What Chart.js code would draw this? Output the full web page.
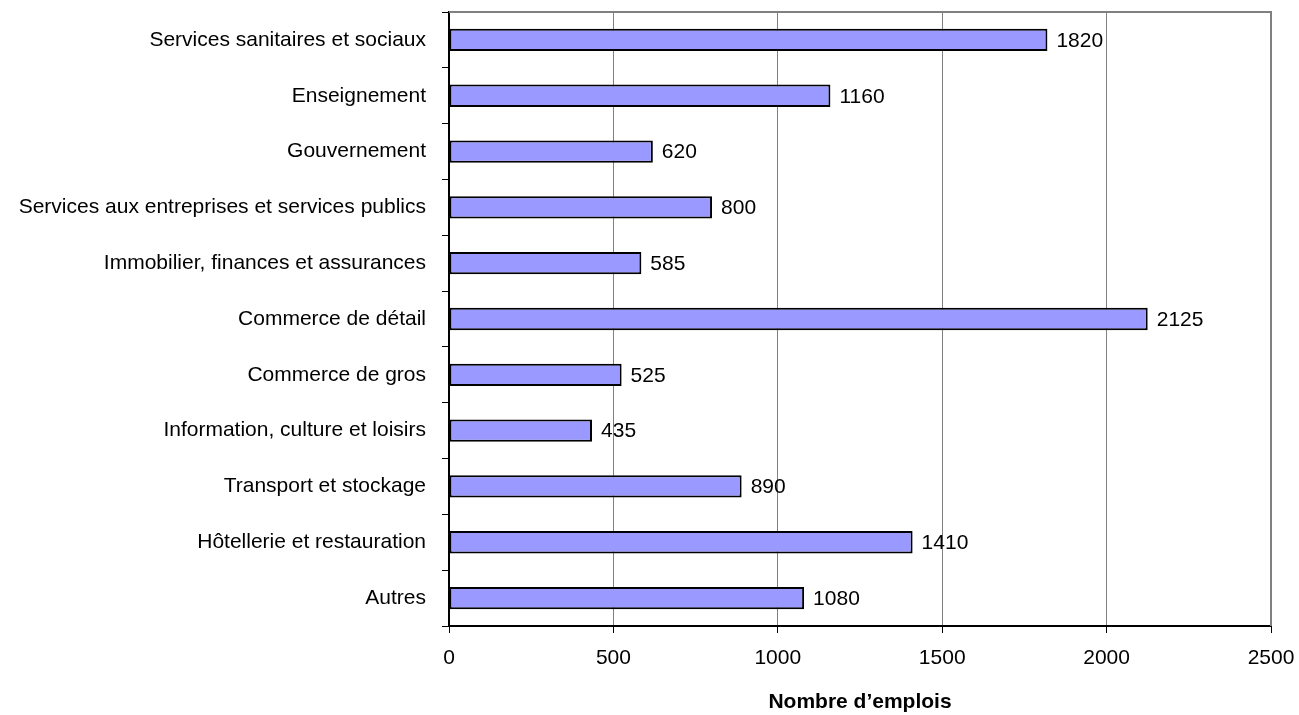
<!DOCTYPE html>
<html>
<head>
<meta charset="utf-8">
<script src="https://cdn.jsdelivr.net/npm/chart.js@4/dist/chart.umd.min.js"></script>
<style>
html,body{margin:0;padding:0;background:#fff;}
#wrap{width:1299px;height:715px;position:relative;}
</style>
</head>
<body>
<div id="wrap"><canvas id="c" width="1299" height="715"></canvas></div>
<script>
const categories = [
  "Services sanitaires et sociaux",
  "Enseignement",
  "Gouvernement",
  "Services aux entreprises et services publics",
  "Immobilier, finances et assurances",
  "Commerce de détail",
  "Commerce de gros",
  "Information, culture et loisirs",
  "Transport et stockage",
  "Hôtellerie et restauration",
  "Autres"
];
const emplois = [1820, 1160, 620, 800, 585, 2125, 525, 435, 890, 1410, 1080];
const axisTitle = "Nombre d’emplois";
const xMin = 0, xMax = 2500, xStep = 500;

const FONT = "'Liberation Sans', Arial, sans-serif";

const valueLabels = {
  id: 'valueLabels',
  afterDatasetsDraw(chart) {
    const ctx = chart.ctx;
    const meta = chart.getDatasetMeta(0);
    ctx.save();
    ctx.font = "21px " + FONT;
    ctx.fillStyle = "#000";
    ctx.textBaseline = "middle";
    ctx.textAlign = "left";
    meta.data.forEach((bar, i) => {
      ctx.fillText(String(chart.data.datasets[0].data[i]), bar.x + 9, bar.y + 1);
    });
    ctx.restore();
  }
};

const frame = {
  id: 'frame',
  beforeDatasetsDraw(chart) {
    const a = chart.chartArea;
    const ctx = chart.ctx;
    ctx.save();
    ctx.strokeStyle = "#808080";
    ctx.lineWidth = 2;
    ctx.beginPath();
    ctx.moveTo(a.left, a.top);
    ctx.lineTo(a.right, a.top);
    ctx.lineTo(a.right, a.bottom);
    ctx.stroke();
    ctx.restore();
  }
};

new Chart(document.getElementById('c'), {
  type: 'bar',
  data: {
    labels: categories,
    datasets: [{
      data: emplois,
      backgroundColor: '#9999FF',
      borderColor: '#000000',
      borderWidth: 2,
      borderSkipped: false,
      barPercentage: 0.4,
      categoryPercentage: 1.0
    }]
  },
  options: {
    indexAxis: 'y',
    responsive: false,
    animation: false,
    layout: { padding: { left: 0, top: 12, right: 28, bottom: 0 } },
    plugins: { legend: { display: false }, tooltip: { enabled: false } },
    scales: {
      x: {
        min: xMin, max: xMax,
        ticks: { stepSize: xStep, color: '#000', font: { size: 21, family: FONT }, padding: 13,
                 callback: (v) => String(v) },
        grid: { color: '#808080', lineWidth: 1, tickColor: '#000', tickLength: 7 },
        border: { color: '#000', width: 2 },
        title: { display: true, text: axisTitle, color: '#000', font: { size: 21, weight: 'bold', family: FONT }, padding: { top: 0, bottom: 0 } },
        afterFit(scale) { scale.height = 89; scale.paddingLeft = 0; scale.paddingRight = 0; }
      },
      y: {
        ticks: { color: '#000', font: { size: 21, family: FONT }, padding: 16 },
        grid: { offset: true, drawOnChartArea: false, color: '#000', tickLength: 7 },
        border: { color: '#000', width: 2 },
        afterFit(scale) { scale.width = 449; scale.paddingTop = 0; scale.paddingBottom = 0; }
      }
    }
  },
  plugins: [frame, valueLabels]
});
</script>
</body>
</html>
